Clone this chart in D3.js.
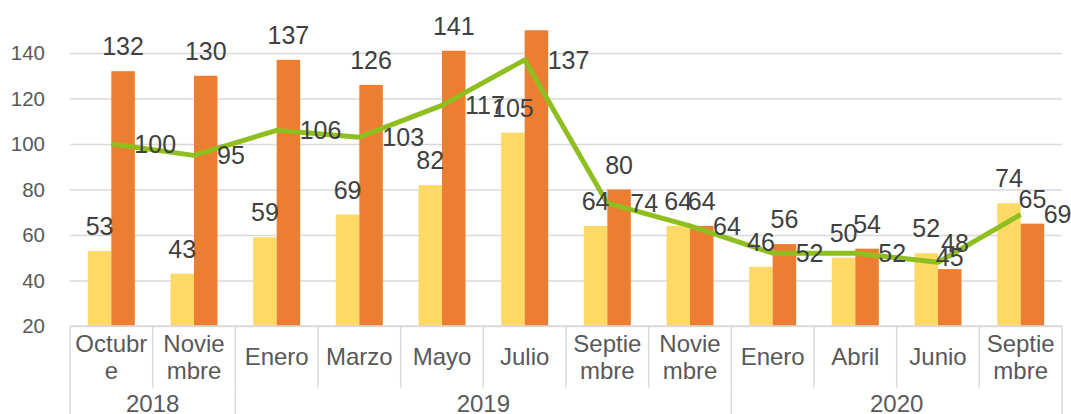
<!DOCTYPE html>
<html>
<head>
<meta charset="utf-8">
<script src="https://cdn.jsdelivr.net/npm/d3@7"></script>
<style>
  html, body { margin: 0; padding: 0; background: #fff; }
  svg { display: block; font-family: "Liberation Sans", Arial, sans-serif; }
</style>
</head>
<body>
<svg id="chart" width="1071" height="414"></svg>
<script>
// chart data
const months = [["Octubr", "e"], ["Novie", "mbre"], ["Enero"], ["Marzo"], ["Mayo"], ["Julio"],
  ["Septie", "mbre"], ["Novie", "mbre"], ["Enero"], ["Abril"], ["Junio"], ["Septie", "mbre"]];
const years = ["2018", "2019", "2020"];
const monthsPerYear = [2, 6, 4];
const yellowValues = [53, 43, 59, 69, 82, 105, 64, 64, 46, 50, 52, 74];
const orangeValues = [132, 130, 137, 126, 141, 150, 80, 64, 56, 54, 45, 65];
const lineValues = [100, 95, 106, 103, 117, 137, 74, 64, 52, 52, 48, 69];
const yTicks = [20, 40, 60, 80, 100, 120, 140];

// labels moved by hand in the original (Junio 2020)
const orangeNudge = { 10: [0, 13] };
const lineNudge = { 10: [-20, -19] };

const svg = d3.select("#chart");
const plotLeft = 70, plotRight = 1062, plotTop = 30.25, plotBottom = 326;
const gridColor = "#d9d9d9";

const y = d3.scaleLinear().domain([20, 150]).range([plotBottom, plotTop]);
const x0 = d3.scaleBand().domain(d3.range(months.length)).range([plotLeft, plotRight]);
const x1 = d3.scaleBand().domain(["yellow", "orange"])
  .range([0, x0.bandwidth()]).paddingInner(0).paddingOuter(0.76);

// gridlines + y labels
const yAxis = svg.append("g").attr("transform", `translate(${plotLeft},0)`)
  .call(d3.axisLeft(y).tickValues(yTicks).tickSize(-(plotRight - plotLeft)).tickPadding(25));
yAxis.select(".domain").remove();
yAxis.selectAll(".tick line").attr("stroke", gridColor).attr("stroke-width", 1.5);
yAxis.selectAll(".tick text")
  .attr("fill", "#595959").style("font-size", "20.5px")
  .style("font-family", "Liberation Sans, Arial, sans-serif");

// bars
const groups = svg.append("g").selectAll("g")
  .data(months.map((m, i) => i))
  .join("g")
  .attr("transform", i => `translate(${x0(i)},0)`);

groups.append("rect")
  .attr("x", x1("yellow")).attr("width", x1.bandwidth())
  .attr("y", i => y(yellowValues[i]))
  .attr("height", i => y(20) - y(yellowValues[i]))
  .attr("fill", "#ffd966");

groups.append("rect")
  .attr("x", x1("orange")).attr("width", x1.bandwidth())
  .attr("y", i => y(Math.min(orangeValues[i], 150)))
  .attr("height", i => y(20) - y(Math.min(orangeValues[i], 150)))
  .attr("fill", "#ed7d31");

// x axis line
svg.append("line")
  .attr("x1", plotLeft).attr("x2", plotRight).attr("y1", plotBottom).attr("y2", plotBottom)
  .attr("stroke", gridColor).attr("stroke-width", 1.5);

// line series
const cx = i => x0(i) + x0.bandwidth() / 2;
svg.append("path")
  .datum(lineValues)
  .attr("fill", "none")
  .attr("stroke", "#8fbf1f")
  .attr("stroke-width", 5)
  .attr("stroke-linejoin", "round")
  .attr("d", d3.line().x((d, i) => cx(i)).y(d => y(d)));

// data labels
const nudge = (m, i) => m[i] || [0, 0];
const labels = svg.append("g").attr("fill", "#404040").style("font-size", "25px");
labels.selectAll(".ylab").data(yellowValues).join("text")
  .attr("text-anchor", "middle")
  .attr("x", (d, i) => x0(i) + x1("yellow") + x1.bandwidth() / 2)
  .attr("y", d => y(d) - 16)
  .text(d => d);
labels.selectAll(".olab").data(orangeValues.map((v, i) => ({ v, i })).filter(d => d.v < 150)).join("text")
  .attr("text-anchor", "middle")
  .attr("x", d => x0(d.i) + x1("orange") + x1.bandwidth() / 2 + nudge(orangeNudge, d.i)[0])
  .attr("y", d => y(d.v) - 16 + nudge(orangeNudge, d.i)[1])
  .text(d => d.v);
labels.selectAll(".llab").data(lineValues).join("text")
  .attr("x", (d, i) => cx(i) + 23 + nudge(lineNudge, i)[0])
  .attr("y", (d, i) => y(d) + nudge(lineNudge, i)[1])
  .attr("dy", "0.35em")
  .text(d => d);

// category axis
const axisG = svg.append("g");
const rowBottom = 387.5;
d3.range(months.length + 1).forEach(i => {
  const xx = i < months.length ? x0(i) : plotRight;
  axisG.append("line")
    .attr("x1", xx).attr("x2", xx).attr("y1", plotBottom).attr("y2", rowBottom)
    .attr("stroke", gridColor).attr("stroke-width", 1.5);
});
let start = 0;
const yearBounds = [0];
monthsPerYear.forEach(n => { start += n; yearBounds.push(start); });
yearBounds.forEach(b => {
  const xx = b < months.length ? x0(b) : plotRight;
  axisG.append("line")
    .attr("x1", xx).attr("x2", xx).attr("y1", rowBottom).attr("y2", 414)
    .attr("stroke", gridColor).attr("stroke-width", 1.5);
});

axisG.selectAll(".month").data(months).join("text")
  .attr("fill", "#595959").style("font-size", "24px")
  .attr("text-anchor", "middle")
  .each(function (lines, i) {
    const t = d3.select(this);
    lines.forEach((ln, k) => {
      t.append("tspan")
        .attr("x", cx(i))
        .attr("y", 357 + (k - (lines.length - 1) / 2) * 27)
        .attr("dy", "0.35em")
        .text(ln);
    });
  });

axisG.selectAll(".year").data(years).join("text")
  .attr("fill", "#595959").style("font-size", "24px")
  .attr("text-anchor", "middle")
  .attr("x", (d, i) => {
    const a = x0(yearBounds[i]);
    const b = yearBounds[i + 1] < months.length ? x0(yearBounds[i + 1]) : plotRight;
    return (a + b) / 2;
  })
  .attr("y", 404)
  .attr("dy", "0.35em")
  .text(d => d);
</script>
</body>
</html>
